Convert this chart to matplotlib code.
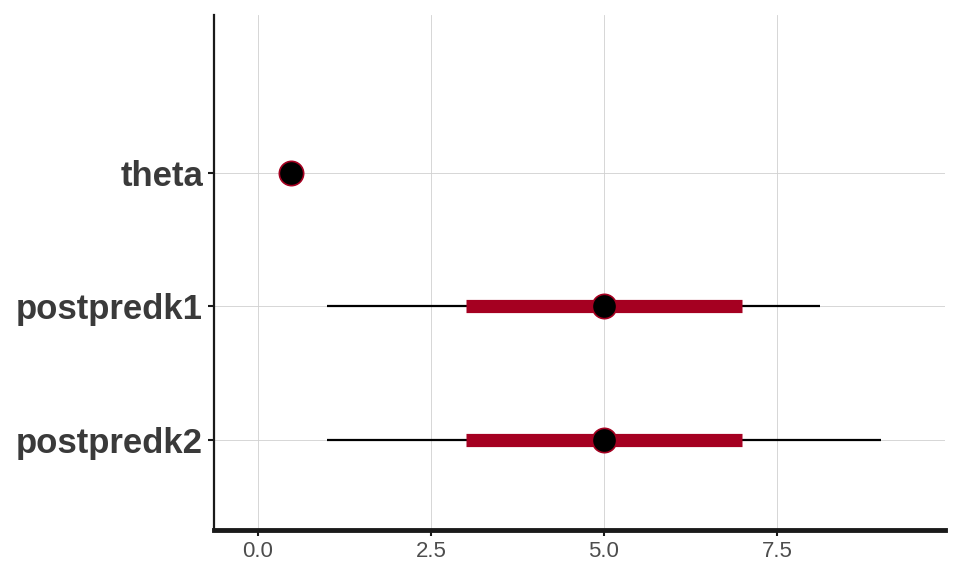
import matplotlib
matplotlib.use("Agg")
import matplotlib.pyplot as plt

params = ["theta", "postpredk1", "postpredk2"]
ll = [0.46, 1.0, 1.0]
l = [0.47, 3.0, 3.0]
m = [0.48, 5.0, 5.0]
h = [0.49, 7.0, 7.0]
hh = [0.50, 8.12, 9.0]
xticks = [0.0, 2.5, 5.0, 7.5]
xticklabels = ["0.0", "2.5", "5.0", "7.5"]

plt.rcParams['font.family'] = ['Liberation Sans', 'DejaVu Sans']
fig = plt.figure(figsize=(9.6, 5.76), dpi=100)
ax = fig.add_axes([214/960, 1-530/576, (945-214)/960, (530-15)/576])

n = len(params)
ypos = [n - i for i in range(n)]
red = "#a50021"
for y, a, b, c, d, e in zip(ypos, ll, l, m, h, hh):
    ax.plot([a, e], [y, y], color="black", lw=1.6, solid_capstyle="butt", zorder=3)
    ax.plot([b, d], [y, y], color=red, lw=9.5, solid_capstyle="butt", zorder=4)
    ax.plot([c], [y], marker="o", markersize=17.5, markerfacecolor="black",
            markeredgecolor=red, markeredgewidth=1.2, zorder=5, linestyle="none")

ax.set_xlim(-0.636, 9.93)
ax.set_ylim(0.326, 4.18)
ax.set_yticks(ypos)
ax.set_yticklabels(params, fontsize=25, fontweight="bold", color="#3a3a3a")
ax.set_xticks(xticks)
ax.set_xticklabels(xticklabels, fontsize=16, color="#4d4d4d")
ax.grid(True, color="#d0d0d0", lw=0.6)
ax.set_axisbelow(True)
for s in ["top", "right"]:
    ax.spines[s].set_visible(False)
ax.spines["left"].set_linewidth(1.6)
ax.spines["left"].set_color("#1a1a1a")
ax.spines["bottom"].set_linewidth(3.5)
ax.spines["bottom"].set_color("#1a1a1a")
ax.tick_params(axis="both", length=4, width=1.5, color="#1a1a1a", pad=4)
fig.savefig("out.png", dpi=100)
